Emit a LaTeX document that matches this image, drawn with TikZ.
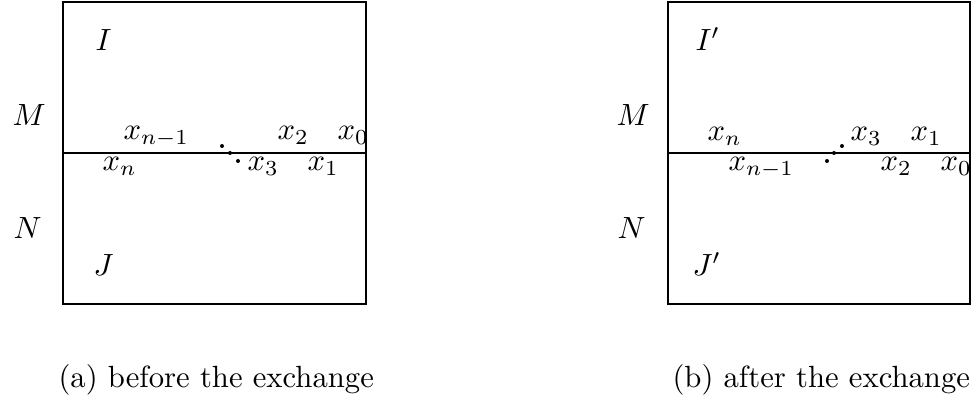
\documentclass[tikz,border=0pt]{standalone}
\usepackage{tikz}
\usetikzlibrary{positioning}

\begin{document}
\begin{tikzpicture}[
x=0.326pt, y=-0.326pt,
line width=0.34pt,
lbl/.style={
    inner sep=0pt,
    anchor=base west
},
dotpt/.style={
    fill,
    circle,
    inner sep=0pt,
    minimum size=1.3pt
}
]

\useasboundingbox (0,0) rectangle (971,402);

% (a) before
\draw (63,2) rectangle (366,304);
\draw (63,153) -- (366,153);

\node[lbl] (Ma) at (12,126) {$M$};
\node[lbl] (Na) at (13,239) {$N$};
\node[lbl] (Ia) at (95,51) {$I$};
\node[lbl] (Ja) at (93,276) {$J$};

\node[lbl] (xna) at (123,140) {$x_{n-1}$};
\node[lbl] (xtwoa) at (277,140) {$x_2$};
\node[lbl] (xzeroa) at (337,140) {$x_0$};
\node[lbl] (xnb) at (102,171) {$x_n$};
\node[lbl] (xthreea) at (247,171) {$x_3$};
\node[lbl] (xonea) at (307,171) {$x_1$};

\node[dotpt] (da1) at (222,146) {};
\node[dotpt] (da2) at (230,153) {};
\node[dotpt] (da3) at (238,161) {};

\node[lbl] (capa) at (58,388) {(a) before the exchange};

% (b) after
\draw (668,2) rectangle (970,304);
\draw (668,153) -- (970,153);

\node[lbl] (Mb) at (616,126) {$M$};
\node[lbl] (Nb) at (617,239) {$N$};
\node[lbl] (Ib) at (695,51) {$I'$};
\node[lbl] (Jb) at (692,276) {$J'$};

\node[lbl] (xnc) at (707,141) {$x_n$};
\node[lbl] (xthreeb) at (850,141) {$x_3$};
\node[lbl] (xoneb) at (910,141) {$x_1$};
\node[lbl] (xnd) at (728,171) {$x_{n-1}$};
\node[lbl] (xtwob) at (880,171) {$x_2$};
\node[lbl] (xzerob) at (940,171) {$x_0$};

\node[dotpt] (db1) at (827,161) {};
\node[dotpt] (db2) at (834,153) {};
\node[dotpt] (db3) at (842,146) {};

\node[lbl] (capb) at (672,388) {(b) after the exchange};

\end{tikzpicture}
\end{document}
